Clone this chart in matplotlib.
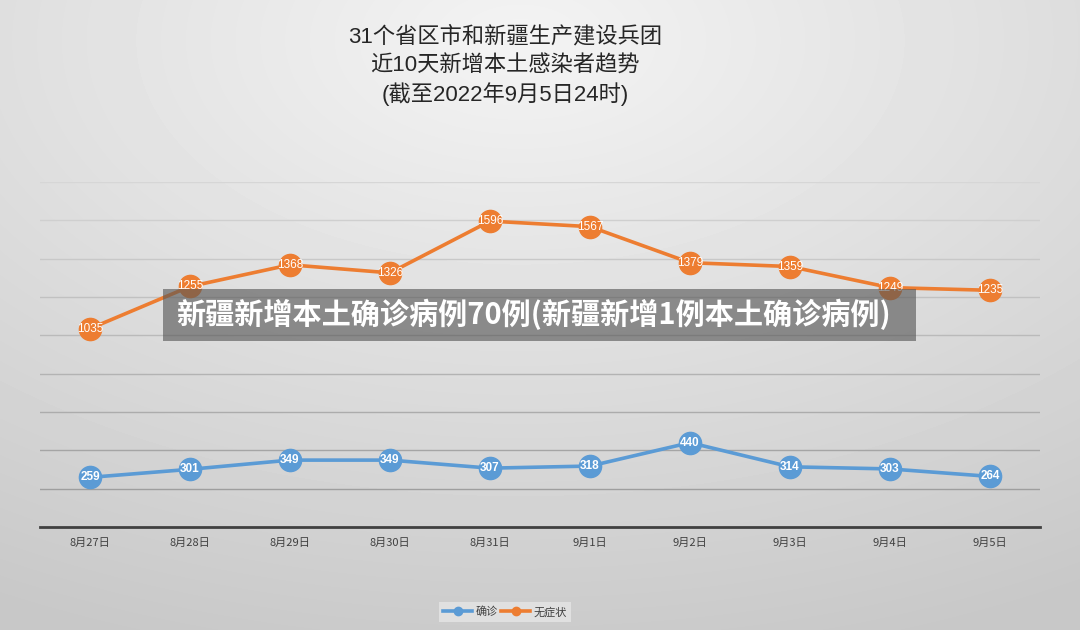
import numpy as np
import matplotlib.pyplot as plt

plt.rcParams['font.family'] = ['Noto Sans CJK SC', 'DejaVu Sans']

dates = ['8月27日', '8月28日', '8月29日', '8月30日', '8月31日',
         '9月1日', '9月2日', '9月3日', '9月4日', '9月5日']
confirmed = [259, 301, 349, 349, 307, 318, 440, 314, 303, 264]
asymptomatic = [1035, 1255, 1368, 1326, 1596, 1567, 1379, 1359, 1249, 1235]
grid_vals = [200, 400, 600, 800, 1000, 1200, 1400, 1600, 1800]

blue = '#5b9bd5'
orange = '#ed7d31'

fig = plt.figure(figsize=(10.8, 6.3), dpi=100)

# gradient background
bg = fig.add_axes([0, 0, 1, 1], zorder=-10)
yy, xx = np.mgrid[0:630, 0:1080]
d = np.sqrt(((xx - 520) / 1080.0) ** 2 + ((yy - 40) / 630.0) ** 2)
shade = 0.955 - 0.17 * np.clip(d, 0, 1)
bg.imshow(shade, cmap='gray', vmin=0, vmax=1, aspect='auto', interpolation='bilinear')
bg.axis('off')

ax = fig.add_axes([40 / 1080, 1 - 527 / 630, 1000 / 1080, 345 / 630])
ax.set_facecolor('none')
x = np.arange(len(dates))
ax.set_xlim(-0.5, len(dates) - 0.5)
ax.set_ylim(0, 1800)

for i, g in enumerate(grid_vals):
    c = 0.62 + 0.22 * (i / (len(grid_vals) - 1))
    ax.axhline(g, color=(c, c, c), lw=1.0, zorder=1)

for s in ['top', 'right', 'left']:
    ax.spines[s].set_visible(False)
ax.spines['bottom'].set_color('#404040')
ax.spines['bottom'].set_linewidth(2.0)
ax.set_yticks([])
ax.set_xticks(x)
ax.set_xticklabels(dates, fontsize=8, color='#404040')
ax.tick_params(axis='x', length=0, pad=8)

ax.plot(x, confirmed, color=blue, lw=2.6, marker='o', ms=16, mec=blue, zorder=3, label='确诊')
ax.plot(x, asymptomatic, color=orange, lw=2.6, marker='o', ms=16, mec=orange, zorder=3, label='无症状')

for xi, v in zip(x, confirmed):
    ax.text(xi, v, str(v), ha='center', va='center', fontsize=8.5, color='white',
            fontweight='bold', family='Liberation Sans', zorder=4)
for xi, v in zip(x, asymptomatic):
    ax.text(xi, v, str(v), ha='center', va='center', fontsize=8.5, color='white',
            family='Liberation Sans', zorder=4)

leg = fig.legend(loc='center', bbox_to_anchor=(505 / 1080, 1 - 612 / 630), ncol=2,
                 fontsize=8, frameon=True, fancybox=False, handlelength=2.6,
                 columnspacing=0.3, handletextpad=0.3, borderpad=0.4)
leg.get_frame().set_facecolor('#e6e6e6')
leg.get_frame().set_edgecolor('none')
for h in leg.legend_handles:
    h.set_markersize(6)
for t in leg.get_texts():
    t.set_color('#404040')

title_font = ['Liberation Sans', 'Noto Sans CJK SC']
fig.text(505 / 1080, 1 - 37 / 630, '31个省区市和新疆生产建设兵团', ha='center', va='center',
         fontsize=16, color='#262626', family=title_font)
fig.text(505 / 1080, 1 - 66 / 630, '近10天新增本土感染者趋势', ha='center', va='center',
         fontsize=16, color='#262626', family=title_font)
fig.text(505 / 1080, 1 - 94 / 630, '(截至2022年9月5日24时)', ha='center', va='center',
         fontsize=16, color='#262626', family=title_font)

# caption banner
fig.patches.append(plt.Rectangle((163 / 1080, 1 - 341 / 630), 753 / 1080, 52 / 630,
                                 transform=fig.transFigure, facecolor='#555555',
                                 alpha=0.62, edgecolor='none', zorder=5))
fig.text(534 / 1080, 1 - 314 / 630, '新疆新增本土确诊病例70例(新疆新增1例本土确诊病例)',
         ha='center', va='center', fontsize=21, color='white', fontweight='bold', zorder=6)

fig.savefig('out.png', dpi=100)
